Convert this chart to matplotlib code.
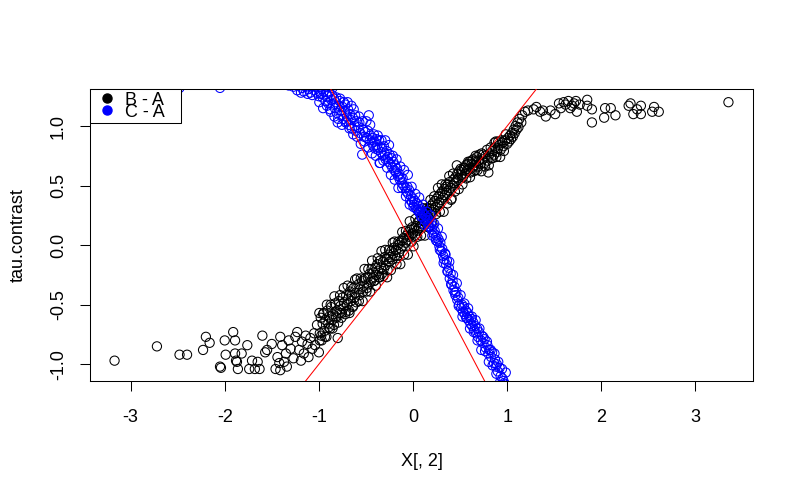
import matplotlib.pyplot as plt
import matplotlib as mpl
from matplotlib.lines import Line2D

mpl.rcParams['font.family'] = ['Liberation Sans', 'DejaVu Sans']
mpl.rcParams['font.size'] = 13
mpl.rcParams['axes.unicode_minus'] = False

# X[, 2] values, shared by both contrasts
x2 = [
    # left tail
    -3.17, -2.72, -2.48, -2.40, -2.23, -2.20, -2.16, -2.05, -2.04, -2.00,
    -1.91, -1.89, -1.99, -1.89, -1.87, -1.86, -1.82, -1.76, -1.88, -1.74,
    -1.71, -1.68, -1.65, -1.63, -1.60, -1.57,
    # lower cluster
    -1.55, -1.50, -1.46, -1.44, -1.42, -1.41, -1.41, -1.39, -1.37, -1.35,
    -1.34, -1.32, -1.30, -1.27, -1.25, -1.23, -1.21, -1.19, -1.18, -1.16,
    -1.14, -1.12, -1.11, -1.09, -1.07, -1.05, -1.04, -1.02, -1.00, -0.99,
    # -1 .. -0.5
    -0.99, -0.98, -0.97, -0.96, -0.95, -0.94, -0.93, -0.92, -0.91, -0.90,
    -0.89, -0.88, -0.87, -0.86, -0.85, -0.84, -0.83, -0.82, -0.81, -0.80,
    -0.79, -0.78, -0.77, -0.76, -0.75, -0.74, -0.73, -0.72, -0.71, -0.70,
    -0.69, -0.68, -0.67, -0.66, -0.65, -0.64, -0.63, -0.62, -0.61, -0.60,
    -0.58, -0.57, -0.56, -0.54, -0.53, -0.52, -0.51,
    # -0.5 .. 0
    -0.49, -0.48, -0.47, -0.46, -0.45, -0.44, -0.43, -0.42, -0.41, -0.40,
    -0.39, -0.38, -0.37, -0.36, -0.35, -0.34, -0.33, -0.32, -0.31, -0.30,
    -0.29, -0.28, -0.27, -0.26, -0.25, -0.24, -0.23, -0.22, -0.21, -0.20,
    -0.19, -0.18, -0.17, -0.16, -0.15, -0.14, -0.13, -0.12, -0.11, -0.10,
    -0.08, -0.07, -0.06, -0.05, -0.04, -0.03, -0.02, -0.01,
    # 0 .. 0.5
    0.00, 0.01, 0.02, 0.03, 0.04, 0.05, 0.06, 0.07, 0.08, 0.09,
    0.10, 0.11, 0.12, 0.13, 0.14, 0.15, 0.16, 0.17, 0.18, 0.19,
    0.20, 0.21, 0.22, 0.23, 0.24, 0.25, 0.26, 0.27, 0.28, 0.29,
    0.30, 0.31, 0.32, 0.33, 0.34, 0.35, 0.36, 0.37, 0.38, 0.39,
    0.40, 0.41, 0.42, 0.43, 0.44, 0.45, 0.46, 0.47, 0.48, 0.49,
    # 0.5 .. 1
    0.51, 0.52, 0.53, 0.54, 0.55, 0.56, 0.57, 0.58, 0.59, 0.60,
    0.61, 0.62, 0.63, 0.64, 0.65, 0.66, 0.67, 0.68, 0.69, 0.70,
    0.72, 0.73, 0.74, 0.76, 0.77, 0.79, 0.80, 0.81, 0.83, 0.84,
    0.86, 0.87, 0.88, 0.89, 0.90, 0.92, 0.93, 0.95, 0.96, 0.98,
    # 1 .. 1.2
    1.00, 1.01, 1.02, 1.03, 1.04, 1.05, 1.06, 1.07, 1.08, 1.09,
    1.10, 1.11, 1.12, 1.13, 1.15, 1.16,
    # plateau
    1.19, 1.22, 1.28, 1.31, 1.35, 1.38, 1.41, 1.46, 1.51, 1.55,
    1.57, 1.60, 1.62, 1.65, 1.67, 1.69, 1.71, 1.73, 1.74, 1.77,
    1.85, 1.85, 1.90, 1.90, 2.03, 2.04, 2.10, 2.15, 2.29, 2.31,
    2.34, 2.38, 2.42, 2.42, 2.54, 2.56, 2.61, 3.35,
    # band edges, -1 .. 1
    -0.995, -0.975, -0.955, -0.935, -0.915, -0.895, -0.875, -0.855, -0.835, -0.815,
    -0.795, -0.775, -0.755, -0.735, -0.715, -0.695, -0.675, -0.655, -0.635, -0.615,
    -0.595, -0.575, -0.555, -0.535, -0.515, -0.495, -0.475, -0.455, -0.435, -0.415,
    -0.395, -0.375, -0.355, -0.335, -0.315, -0.295, -0.275, -0.255, -0.235, -0.215,
    -0.195, -0.175, -0.155, -0.135, -0.115, -0.095, -0.075, -0.055, -0.035, -0.015,
    0.005, 0.025, 0.045, 0.065, 0.085, 0.105, 0.125, 0.145, 0.165, 0.185,
    0.205, 0.225, 0.245, 0.265, 0.285, 0.305, 0.325, 0.345, 0.365, 0.385,
    0.405, 0.425, 0.445, 0.465, 0.485, 0.505, 0.525, 0.545, 0.565, 0.585,
    0.605, 0.625, 0.645, 0.665, 0.685, 0.705, 0.725, 0.745, 0.765, 0.785,
    0.805, 0.825, 0.845, 0.865, 0.885, 0.905, 0.925, 0.945, 0.965, 0.985,
]

# tau contrast B - A
tau_ba = [
    -0.97, -0.85, -0.92, -0.92, -0.88, -0.77, -0.82, -1.02, -1.03, -0.80,
    -0.73, -0.80, -0.92, -0.91, -0.98, -1.04, -0.91, -0.84, -0.97, -1.04,
    -0.97, -1.04, -0.98, -1.04, -0.76, -0.90,
    -0.88, -0.83, -1.04, -0.94, -0.99, -1.05, -0.77, -0.84, -0.98, -0.91,
    -1.02, -0.80, -0.87, -0.95, -0.77, -0.73, -0.88, -0.97, -0.81, -0.91,
    -0.76, -0.83, -0.94, -0.78, -0.87, -0.74, -0.84, -0.67, -0.90, -0.80,
    -0.74, -0.61, -0.80, -0.66, -0.57, -0.72, -0.63, -0.77, -0.55, -0.66,
    -0.60, -0.70, -0.52, -0.63, -0.58, -0.67, -0.49, -0.60, -0.55, -0.78,
    -0.47, -0.57, -0.51, -0.61, -0.44, -0.53, -0.48, -0.58, -0.42, -0.50,
    -0.45, -0.55, -0.39, -0.47, -0.42, -0.52, -0.36, -0.44, -0.40, -0.48,
    -0.33, -0.42, -0.37, -0.30, -0.39, -0.34, -0.28,
    -0.36, -0.27, -0.33, -0.24, -0.31, -0.20, -0.28, -0.23, -0.30, -0.19,
    -0.25, -0.16, -0.22, -0.27, -0.13, -0.19, -0.24, -0.14, -0.20, -0.10,
    -0.17, -0.12, -0.21, -0.08, -0.14, -0.10, -0.05, -0.12, -0.07, -0.02,
    -0.09, -0.04, -0.11, 0.00, -0.06, 0.02, -0.03, 0.04, -0.01, 0.06,
    0.02, 0.08, 0.04, 0.11, 0.07, 0.13, 0.09, 0.15,
    0.10, 0.14, 0.08, 0.16, 0.12, 0.19, 0.14, 0.21, 0.16, 0.23,
    0.18, 0.25, 0.20, 0.27, 0.22, 0.29, 0.24, 0.31, 0.26, 0.33,
    0.28, 0.35, 0.30, 0.37, 0.32, 0.39, 0.34, 0.41, 0.36, 0.43,
    0.38, 0.45, 0.40, 0.47, 0.42, 0.49, 0.44, 0.51, 0.46, 0.53,
    0.48, 0.39, 0.50, 0.55, 0.52, 0.57, 0.54, 0.60, 0.56, 0.62,
    0.59, 0.63, 0.57, 0.65, 0.60, 0.67, 0.62, 0.68, 0.64, 0.70,
    0.61, 0.68, 0.65, 0.72, 0.67, 0.63, 0.70, 0.74, 0.66, 0.71,
    0.68, 0.77, 0.72, 0.69, 0.75, 0.71, 0.61, 0.76, 0.73, 0.79,
    0.76, 0.82, 0.87, 0.78, 0.81, 0.84, 0.80, 0.86, 0.83, 0.88,
    0.85, 0.90, 0.87, 0.92, 0.89, 0.94, 0.91, 0.97, 0.94, 1.00,
    0.97, 1.03, 0.99, 1.06, 1.03, 1.09,
    1.12, 1.13, 1.14, 1.16, 1.12, 1.13, 1.08, 1.13, 1.10, 1.19,
    1.15, 1.20, 1.18, 1.21, 1.15, 1.17, 1.19, 1.21, 1.12, 1.18,
    1.22, 1.17, 1.14, 1.03, 1.07, 1.15, 1.15, 1.09, 1.17, 1.19,
    1.10, 1.14, 1.17, 1.10, 1.12, 1.16, 1.12, 1.20,
    -0.57, -0.76, -0.58, -0.77, -0.50, -0.69, -0.50, -0.70, -0.43, -0.61,
    -0.65, -0.42, -0.57, -0.36, -0.56, -0.34, -0.57, -0.35, -0.51, -0.29,
    -0.28, -0.47, -0.28, -0.47, -0.20, -0.39, -0.20, -0.39, -0.13, -0.30,
    -0.34, -0.11, -0.27, -0.05, -0.26, -0.04, -0.27, -0.04, -0.21, 0.02,
    0.03, -0.16, 0.03, -0.16, 0.11, -0.08, 0.12, -0.08, 0.20, 0.03,
    -0.01, 0.22, 0.07, 0.28, 0.08, 0.31, 0.08, 0.31, 0.15, 0.38,
    0.19, 0.41, 0.26, 0.48, 0.28, 0.51, 0.28, 0.51, 0.35, 0.58,
    0.38, 0.60, 0.45, 0.67, 0.47, 0.64, 0.51, 0.65, 0.56, 0.70,
    0.57, 0.71, 0.62, 0.75, 0.63, 0.76, 0.62, 0.76, 0.66, 0.80,
    0.67, 0.82, 0.73, 0.86, 0.74, 0.87, 0.74, 0.88, 0.79, 0.93,
]

# tau contrast C - A (many fall outside the y range and get clipped)
tau_ca = [
    1.45, 1.41, 1.32, 1.44, 1.40, 1.47, 1.42, 1.32, 1.46, 1.43,
    1.39, 1.45, 1.41, 1.48, 1.44, 1.40, 1.46, 1.42, 1.38, 1.45,
    1.43, 1.40, 1.47, 1.41, 1.44, 1.39,
    1.44, 1.42, 1.41, 1.39, 1.40, 1.38, 1.36, 1.39, 1.37, 1.35,
    1.38, 1.34, 1.36, 1.33, 1.35, 1.30, 1.34, 1.28, 1.32, 1.29,
    1.33, 1.27, 1.31, 1.28, 1.26, 1.30, 1.33, 1.28, 1.25, 1.29,
    1.33, 1.27, 1.31, 1.24, 1.29, 1.35, 1.21, 1.27, 1.25, 1.19,
    1.28, 1.14, 1.22, 1.26, 1.18, 1.23, 1.15, 1.20, 1.11, 1.03,
    1.17, 1.21, 1.13, 1.09, 1.16, 1.06, 1.12, 1.18, 1.04, 1.08,
    1.14, 1.01, 1.10, 1.05, 0.98, 1.07, 1.14, 1.00, 0.96, 1.04,
    0.99, 1.03, 0.94, 0.76, 0.97, 0.91, 0.95,
    0.90, 0.96, 1.09, 0.88, 0.92, 0.86, 0.90, 0.83, 0.87, 0.81,
    0.89, 0.84, 0.80, 0.88, 0.69, 0.78, 0.82, 0.75, 0.83, 0.77,
    0.72, 0.79, 0.74, 0.70, 0.76, 0.68, 0.73, 0.65, 0.70, 0.63,
    0.67, 0.61, 0.64, 0.58, 0.60, 0.55, 0.57, 0.52, 0.56, 0.50,
    0.48, 0.45, 0.49, 0.43, 0.46, 0.38, 0.41, 0.36,
    0.39, 0.34, 0.37, 0.31, 0.35, 0.29, 0.33, 0.27, 0.30, 0.24,
    0.28, 0.26, 0.22, 0.25, 0.20, 0.23, 0.18, 0.21, 0.15, 0.19,
    0.13, 0.16, 0.10, 0.12, 0.06, 0.08, 0.03, 0.05, -0.01, 0.02,
    -0.05, -0.03, -0.09, -0.12, -0.07, -0.16, -0.13, -0.22, -0.19, -0.28,
    -0.24, -0.33, -0.30, -0.38, -0.35, -0.42, -0.39, -0.46, -0.44, -0.50,
    -0.53, -0.50, -0.56, -0.52, -0.58, -0.55, -0.61, -0.57, -0.63, -0.60,
    -0.66, -0.62, -0.68, -0.65, -0.71, -0.68, -0.74, -0.70, -0.77, -0.73,
    -0.80, -0.76, -0.82, -0.79, -0.86, -0.84, -0.91, -0.88, -0.94, -0.90,
    -0.99, -0.96, -1.02, -1.00, -1.06, -1.03, -1.10, -1.12, -1.14, -1.17,
    -1.18, -1.21, -1.19, -1.24, -1.22, -1.26, -1.23, -1.27, -1.25, -1.29,
    -1.26, -1.30, -1.28, -1.31, -1.29, -1.32,
    -1.33, -1.35, -1.34, -1.37, -1.36, -1.38, -1.35, -1.39, -1.37, -1.40,
    -1.38, -1.41, -1.39, -1.42, -1.40, -1.43, -1.41, -1.39, -1.44, -1.42,
    -1.40, -1.45, -1.43, -1.41, -1.44, -1.46, -1.42, -1.45, -1.43, -1.47,
    -1.44, -1.46, -1.42, -1.45, -1.48, -1.44, -1.46, -1.50,
    1.20, 1.37, 1.15, 1.33, 1.17, 1.34, 1.12, 1.32, 1.08, 1.24,
    1.06, 1.23, 1.01, 1.20, 1.03, 1.20, 0.98, 1.17, 0.93, 1.09,
    0.91, 1.08, 0.85, 1.04, 0.87, 1.04, 0.82, 1.01, 0.77, 0.93,
    0.75, 0.92, 0.69, 0.88, 0.71, 0.88, 0.65, 0.84, 0.59, 0.75,
    0.55, 0.72, 0.48, 0.66, 0.48, 0.63, 0.41, 0.59, 0.34, 0.49,
    0.32, 0.43, 0.30, 0.40, 0.24, 0.34, 0.17, 0.28, 0.16, 0.25,
    0.08, 0.18, 0.04, 0.14, -0.04, 0.07, -0.15, -0.08, -0.22, -0.14,
    -0.33, -0.25, -0.40, -0.32, -0.51, -0.42, -0.60, -0.49, -0.61, -0.53,
    -0.70, -0.60, -0.73, -0.63, -0.80, -0.70, -0.88, -0.77, -0.89, -0.81,
    -0.98, -0.88, -1.01, -0.91, -1.08, -0.98, -1.15, -1.04, -1.16, -1.07,
]

series_labels = ['B - A', 'C - A']
series_colors = ['black', 'blue']
ref_slopes = [1.0, -1.5]   # abline(0, b) reference lines
xticks = [-3, -2, -1, 0, 1, 2, 3]
yticks = [-1.0, -0.5, 0.0, 0.5, 1.0]


def r_lim(v):
    # R style axis range: data range padded by 4% on each side
    lo, hi = min(v), max(v)
    pad = 0.04 * (hi - lo)
    return lo - pad, hi + pad


fig = plt.figure(figsize=(7.99, 4.94), dpi=100)
ax = fig.add_axes([90 / 799, 1 - 381 / 494, 663 / 799, 292 / 494])

for yv, col in zip([tau_ba, tau_ca], series_colors):
    ax.scatter(x2, yv, s=44, facecolors='none', edgecolors=col, linewidths=0.75)

for b in ref_slopes:
    ax.axline((0, 0), slope=b, color='red', lw=0.75, zorder=3)

ax.set_xlim(r_lim(x2))
ax.set_ylim(r_lim(tau_ba))

ax.set_xticks(xticks)
ax.set_xticklabels([f'{t:d}' for t in xticks])
ax.set_yticks(yticks)
ax.set_yticklabels([f'{t:.1f}' for t in yticks], rotation=90, va='center')
ax.tick_params(direction='out', length=7.5, width=0.75)
ax.tick_params(axis='x', pad=13)
ax.tick_params(axis='y', pad=9)
for sp in ax.spines.values():
    sp.set_linewidth(0.75)
    sp.set_color('black')

ax.set_xlabel('X[, 2]')
ax.xaxis.set_label_coords(0.5, -0.245)
ax.set_ylabel('tau.contrast')
ax.yaxis.set_label_coords(-0.0955, 0.5)

handles = [Line2D([], [], marker='o', ls='', color=c, markersize=6.5) for c in series_colors]
leg = ax.legend(handles, series_labels, loc='upper left',
                bbox_to_anchor=(0, 0.5, 91 / 663, 0.5), mode='expand',
                borderaxespad=0, fancybox=False, edgecolor='black', framealpha=1,
                borderpad=0.14, labelspacing=-0.27, handlelength=1.61,
                handletextpad=0.19)
leg.get_frame().set_linewidth(0.75)

fig.savefig('out.png', dpi=100)
